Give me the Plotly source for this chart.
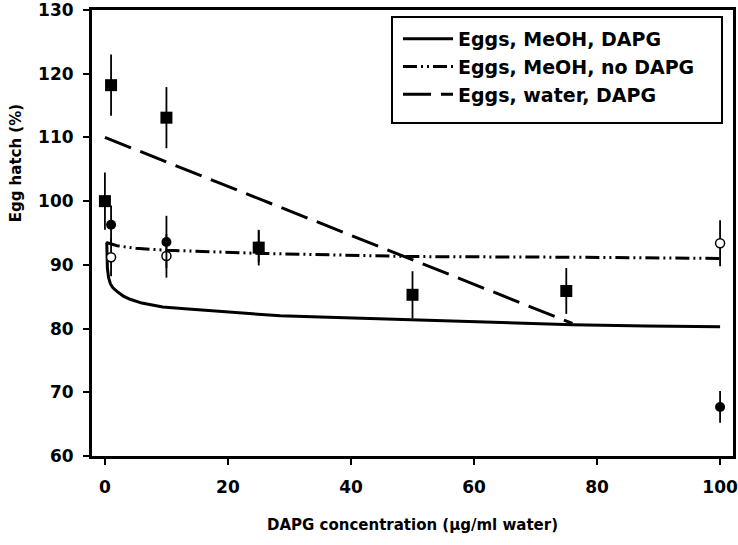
import plotly.graph_objects as go

NEGRO = "#000000"
FONTE = "DejaVu Sans"

# pontos medidos
sq_x = [0, 1, 10, 25, 50, 75]
sq_y = [100.0, 118.2, 113.1, 92.7, 85.3, 85.9]
sq_err = [4.5, 4.8, 4.8, 2.8, 3.7, 3.6]

fc_x = [1, 10, 25, 100]
fc_y = [96.3, 93.6, 92.9, 67.7]
fc_err = [3.0, 4.1, 2.5, 2.5]

oc_x = [1, 10, 100]
oc_y = [91.2, 91.4, 93.4]
oc_err = [3.0, 3.4, 3.6]

# curvas ajustadas
meoh_dapg_x = [0.3, 0.4, 0.6, 0.9, 1.3, 2, 3, 4.1, 6, 9.4, 13, 17.6, 22, 28.5, 35, 44.7, 55, 65, 76, 88, 100]
meoh_dapg_y = [93.5, 89.5, 88.0, 87.0, 86.4, 85.8, 85.1, 84.6, 84.0, 83.4, 83.1, 82.8, 82.4, 82.0, 81.8, 81.5, 81.2, 80.9, 80.6, 80.4, 80.3]

meoh_nodapg_x = [0.2, 2, 5, 10, 25, 50, 75, 100]
meoh_nodapg_y = [93.5, 93.0, 92.6, 92.3, 91.8, 91.3, 91.2, 91.0]

water_dapg_x = [0, 76]
water_dapg_y = [110.0, 80.8]

fig = go.Figure()

fig.add_trace(go.Scatter(x=meoh_dapg_x, y=meoh_dapg_y, mode="lines", name="Eggs, MeOH, DAPG",
                         line=dict(color=NEGRO, width=3)))
fig.add_trace(go.Scatter(x=meoh_nodapg_x, y=meoh_nodapg_y, mode="lines", name="Eggs, MeOH, no DAPG",
                         line=dict(color=NEGRO, width=3, dash="14px,4px,2px,4px,2px,4px")))
fig.add_trace(go.Scatter(x=water_dapg_x, y=water_dapg_y, mode="lines", name="Eggs, water, DAPG",
                         line=dict(color=NEGRO, width=3, dash="28px,10px")))

_err = dict(type="data", color=NEGRO, thickness=1.8, width=0)

fig.add_trace(go.Scatter(x=sq_x, y=sq_y, mode="markers", showlegend=False,
                         marker=dict(symbol="square", size=12, color=NEGRO),
                         error_y=dict(array=sq_err, **_err)))
fig.add_trace(go.Scatter(x=oc_x, y=oc_y, mode="markers", showlegend=False,
                         marker=dict(symbol="circle", size=9, color="white",
                                     line=dict(color=NEGRO, width=1.5)),
                         error_y=dict(array=oc_err, **_err)))
fig.add_trace(go.Scatter(x=fc_x, y=fc_y, mode="markers", showlegend=False,
                         marker=dict(symbol="circle", size=10, color=NEGRO),
                         error_y=dict(array=fc_err, **_err)))

_eixo = dict(showline=True, linecolor=NEGRO, linewidth=3, mirror=True, showgrid=False,
             zeroline=False, ticks="outside", ticklen=6, tickwidth=1.5, tickcolor=NEGRO,
             automargin=False, ticklabeloverflow="allow",
             tickfont=dict(family=FONTE, size=17, color=NEGRO, weight="bold"))

fig.update_xaxes(**_eixo, range=[-2.1, 102.1], tickvals=[0, 20, 40, 60, 80, 100],
                 ticklabelstandoff=8,
                 title=dict(text="DAPG concentration (µg/ml water)", standoff=24,
                            font=dict(family=FONTE, size=15, color=NEGRO, weight="bold")))
fig.update_yaxes(**_eixo, range=[60, 130], dtick=10, ticklabelstandoff=6)

fig.add_annotation(text="Egg hatch (%)", textangle=-90, xref="paper", yref="paper",
                   x=-0.118, y=0.657, xanchor="center", yanchor="middle", showarrow=False,
                   font=dict(family=FONTE, size=15, color=NEGRO, weight="bold"))

# caixa da legenda
fig.add_shape(type="rect", xref="paper", yref="paper",
              x0=(392 - 92) / 641, x1=(722 - 92) / 641,
              y0=(456 - 123) / 446, y1=(456 - 17) / 446,
              line=dict(color=NEGRO, width=2), fillcolor="white", layer="above")

fig.update_layout(
    width=738, height=545,
    plot_bgcolor="white", paper_bgcolor="white",
    margin=dict(t=10, b=89, l=92, r=5),
    legend=dict(x=(398 - 92) / 641, y=(456 - 20) / 446, xanchor="left", yanchor="top",
                borderwidth=0, bgcolor="rgba(0,0,0,0)",
                font=dict(family=FONTE, size=19, color=NEGRO, weight="bold"),
                itemwidth=50, tracegroupgap=0),
)

fig.write_html("out.html", config={"displayModeBar": False},
               post_script="document.body.style.margin='0';")
